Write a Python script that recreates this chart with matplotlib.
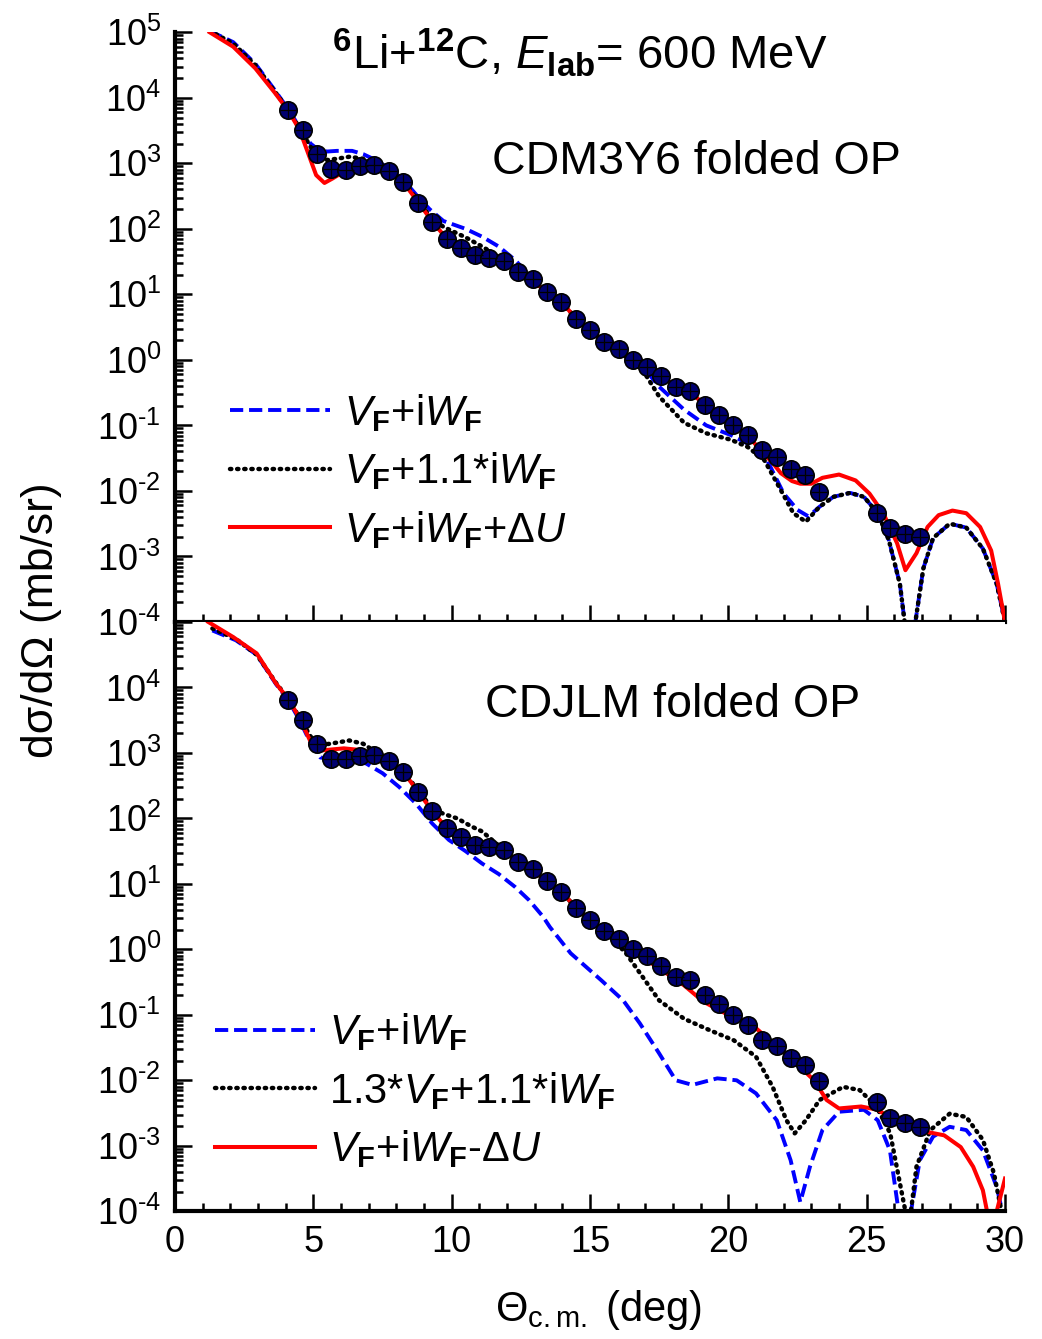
import numpy as np
import matplotlib
matplotlib.use("Agg")
import matplotlib.pyplot as plt
from matplotlib.ticker import LogLocator, NullFormatter, MultipleLocator

plt.rcParams['font.family'] = ['Liberation Sans', 'DejaVu Sans']
plt.rcParams['mathtext.fontset'] = 'custom'
plt.rcParams['mathtext.rm'] = 'Liberation Sans'
plt.rcParams['mathtext.it'] = 'Liberation Sans:italic'
plt.rcParams['mathtext.bf'] = 'Liberation Sans:bold'
plt.rcParams['mathtext.sf'] = 'Liberation Sans'

# experimental points (same data in both panels), log10 of dsigma/dOmega in mb/sr
theta_exp = [4.09, 4.61, 5.12, 5.64, 6.17, 6.68, 7.19, 7.73, 8.25, 8.77, 9.30, 9.82,
             10.33, 10.84, 11.36, 11.89, 12.41, 12.93, 13.43, 13.95, 14.48, 15.00,
             15.52, 16.04, 16.54, 17.06, 17.58, 18.10, 18.63, 19.15, 19.66, 20.18,
             20.72, 21.23, 21.75, 22.25, 22.77, 23.28, 25.38, 25.86, 26.39, 26.92]
logxs_exp = [3.81, 3.51, 3.14, 2.91, 2.90, 2.96, 2.97, 2.88, 2.71, 2.40, 2.11, 1.85,
             1.71, 1.60, 1.56, 1.51, 1.34, 1.23, 1.04, 0.88, 0.63, 0.455,
             0.28, 0.16, 0.0, -0.105, -0.25, -0.42, -0.47, -0.69, -0.84, -1.0,
             -1.15, -1.38, -1.48, -1.66, -1.76, -2.01, -2.33, -2.57, -2.65, -2.71]

# CDM3Y6 panel
th_m3y_blue = [1.25, 2.1, 2.9, 3.6, 4.1, 4.5, 4.9, 5.2, 5.5, 5.85, 6.4, 6.8, 7.3, 7.8,
               8.25, 8.8, 9.2, 9.7, 10.5, 11.1, 11.7, 12.3, 12.9, 13.4, 13.95, 14.5,
               15.0, 15.5, 16.0, 16.5, 17.0, 17.5, 18.4, 19.2, 20.1, 20.8, 21.4, 22.0,
               22.5, 22.9, 23.3, 23.8, 24.4, 24.9, 25.4, 25.8, 26.2, 26.55, 26.9, 27.05,
               27.4, 28.0, 28.6, 29.2, 29.7, 30.0]
xs_m3y_blue = [5.02, 4.85, 4.52, 4.12, 3.82, 3.55, 3.3, 3.2, 3.18, 3.19, 3.19, 3.14,
               3.04, 2.9, 2.75, 2.48, 2.3, 2.12, 2.0, 1.88, 1.73, 1.52, 1.25, 1.04,
               0.89, 0.63, 0.45, 0.28, 0.15, 0.0, -0.15, -0.41, -0.76, -1.0, -1.15,
               -1.30, -1.53, -2.04, -2.29, -2.39, -2.24, -2.09, -2.03, -2.09, -2.34,
               -2.75, -3.42, -4.6, -3.6, -3.18, -2.72, -2.50, -2.56, -2.88, -3.42, -4.0]
th_m3y_black = [1.25, 2.1, 2.9, 3.6, 4.1, 4.5, 4.9, 5.2, 5.5, 5.85, 6.3, 6.8, 7.3, 7.8,
                8.25, 8.8, 9.2, 9.7, 10.5, 11.1, 11.6, 12.1, 12.4, 12.9, 13.4, 13.95,
                14.5, 15.0, 15.5, 16.0, 16.5, 17.0, 17.5, 18.4, 19.2, 20.1, 20.7, 21.3,
                21.9, 22.35, 22.8, 23.3, 23.8, 24.4, 24.9, 25.4, 25.8, 26.2, 26.55, 26.9,
                27.05, 27.4, 28.0, 28.6, 29.2, 29.7, 30.0]
xs_m3y_black = [5.02, 4.83, 4.5, 4.1, 3.81, 3.54, 3.25, 3.1, 3.05, 3.07, 3.10, 3.07,
                2.98, 2.88, 2.73, 2.42, 2.2, 2.03, 1.87, 1.73, 1.6, 1.45, 1.34, 1.23,
                1.04, 0.89, 0.63, 0.45, 0.28, 0.15, -0.02, -0.22, -0.56, -0.96, -1.12,
                -1.22, -1.33, -1.53, -1.99, -2.34, -2.47, -2.24, -2.09, -2.03, -2.09,
                -2.34, -2.75, -3.42, -4.6, -3.6, -3.18, -2.72, -2.50, -2.56, -2.88,
                -3.42, -4.0]
th_m3y_red = [1.25, 2.1, 2.9, 3.6, 4.1, 4.5, 4.9, 5.1, 5.4, 5.7, 6.2, 6.7, 7.2, 7.7,
              8.25, 8.8, 9.3, 9.8, 10.3, 10.8, 11.4, 11.9, 12.4, 12.9, 13.4, 13.95,
              14.5, 15.0, 15.5, 16.0, 16.5, 17.1, 17.6, 18.1, 18.6, 19.15, 19.7, 20.2,
              20.7, 21.2, 21.6, 21.9, 22.3, 22.6, 23.0, 23.4, 24.0, 24.6, 25.1, 25.6,
              26.1, 26.4, 26.8, 27.2, 27.6, 28.1, 28.6, 29.1, 29.5, 29.75, 30.0]
xs_m3y_red = [5.0, 4.78, 4.45, 4.08, 3.80, 3.51, 3.05, 2.82, 2.70, 2.77, 2.90, 2.96,
              2.97, 2.88, 2.71, 2.40, 2.11, 1.86, 1.72, 1.61, 1.56, 1.50, 1.34, 1.23,
              1.04, 0.89, 0.63, 0.45, 0.28, 0.16, 0.0, -0.11, -0.25, -0.41, -0.48,
              -0.69, -0.84, -1.0, -1.15, -1.40, -1.57, -1.73, -1.85, -1.89, -1.89,
              -1.80, -1.75, -1.84, -2.04, -2.34, -2.80, -3.21, -2.95, -2.55, -2.37,
              -2.30, -2.34, -2.55, -2.91, -3.42, -4.0]

# CDJLM panel
th_jlm_blue = [1.35, 2.2, 2.95, 3.65, 4.1, 4.5, 4.9, 5.25, 5.8, 6.3, 6.9, 7.5, 8.1, 8.7,
               9.3, 9.9, 10.5, 11.1, 11.7, 12.3, 12.8, 13.3, 13.55, 14.3, 15.4, 16.2,
               16.8, 17.5, 18.1, 18.7, 19.6, 20.3, 21.0, 21.75, 22.25, 22.6, 22.95,
               23.4, 24.0, 24.9, 25.4, 25.84, 26.13, 26.35, 26.6, 26.92, 27.4, 28.0,
               28.6, 29.2, 29.7, 29.9]
xs_jlm_blue = [4.87, 4.72, 4.5, 4.05, 3.8, 3.5, 3.15, 2.93, 2.90, 2.89, 2.84, 2.69,
               2.48, 2.23, 1.92, 1.67, 1.5, 1.31, 1.15, 0.95, 0.75, 0.5, 0.34, -0.06,
               -0.47, -0.78, -1.13, -1.59, -2.0, -2.07, -1.97, -2.0, -2.2, -2.61, -3.22,
               -3.86, -3.32, -2.76, -2.48, -2.45, -2.61, -3.07, -3.93, -4.6, -4.0,
               -3.22, -2.86, -2.71, -2.76, -3.07, -3.63, -4.0]
th_jlm_black = [1.35, 2.2, 2.95, 3.65, 4.1, 4.5, 4.9, 5.2, 5.6, 6.3, 6.8, 7.3, 7.8,
                8.25, 8.8, 9.3, 9.7, 10.2, 10.7, 11.1, 11.6, 12.0, 12.4, 12.9, 13.4,
                13.95, 14.5, 15.0, 15.5, 15.9, 16.3, 16.9, 17.5, 18.4, 19.3, 20.2, 21.0,
                21.6, 22.1, 22.4, 22.8, 23.3, 24.15, 24.75, 25.35, 25.85, 26.2, 26.4,
                26.5, 26.6, 26.8, 27.3, 28.0, 28.6, 29.2, 29.6, 29.85, 30.0]
xs_jlm_black = [4.9, 4.74, 4.5, 4.07, 3.82, 3.54, 3.25, 3.12, 3.14, 3.19, 3.14, 3.0,
                2.88, 2.72, 2.42, 2.15, 2.07, 2.0, 1.88, 1.80, 1.62, 1.48, 1.34, 1.23,
                1.04, 0.89, 0.63, 0.45, 0.28, 0.12, -0.06, -0.42, -0.78, -1.06, -1.23,
                -1.39, -1.64, -2.10, -2.61, -2.81, -2.61, -2.30, -2.10, -2.15, -2.40,
                -2.81, -3.57, -4.0, -4.6, -4.0, -3.32, -2.76, -2.51, -2.56, -2.91,
                -3.42, -3.95, -4.3]
th_jlm_red = [1.2, 2.1, 2.95, 3.65, 4.1, 4.5, 4.9, 5.35, 6.1, 6.8, 7.2, 7.7, 8.25, 8.8,
              9.3, 9.8, 10.3, 10.8, 11.4, 11.9, 12.4, 12.9, 13.4, 13.95, 14.5, 15.0,
              15.5, 16.0, 16.5, 17.0, 17.6, 18.4, 19.1, 19.9, 20.8, 21.5, 22.2, 23.1,
              23.55, 24.0, 24.8, 25.4, 25.8, 26.6, 27.2, 27.8, 28.4, 28.85, 29.2,
              29.35, 29.5, 29.7, 30.0]
xs_jlm_red = [5.0, 4.77, 4.52, 4.06, 3.82, 3.53, 3.17, 3.04, 3.07, 3.04, 2.97, 2.88,
              2.71, 2.40, 2.11, 1.86, 1.72, 1.61, 1.56, 1.50, 1.34, 1.23, 1.04, 0.89,
              0.63, 0.45, 0.28, 0.16, 0.0, -0.15, -0.32, -0.55, -0.80, -0.98, -1.13,
              -1.39, -1.64, -2.0, -2.30, -2.43, -2.40, -2.45, -2.56, -2.71, -2.79,
              -2.84, -3.02, -3.32, -3.68, -4.0, -4.6, -4.0, -3.5]

ytick_exps = [-4, -3, -2, -1, 0, 1, 2, 3, 4, 5]
xtick_vals = [0, 5, 10, 15, 20, 25, 30]

lab_m3y = [r'$V_{\mathbf{F}}$+i$W_{\mathbf{F}}$',
           r'$V_{\mathbf{F}}$+1.1*i$W_{\mathbf{F}}$',
           r'$V_{\mathbf{F}}$+i$W_{\mathbf{F}}$+$\Delta U$']
lab_jlm = [r'$V_{\mathbf{F}}$+i$W_{\mathbf{F}}$',
           r'1.3*$V_{\mathbf{F}}$+1.1*i$W_{\mathbf{F}}$',
           r'$V_{\mathbf{F}}$+i$W_{\mathbf{F}}$-$\Delta U$']


def ytick_label(e):
    return r'$10^{%s}$' % str(e).replace('-', '\u2010')


def style_axis(ax, show_top_label):
    ax.set_yscale('log')
    ax.set_xlim(0, 30)
    ax.set_ylim(1e-4, 1e5)
    for s in ['top', 'right']:
        ax.spines[s].set_visible(False)
    for s in ['left', 'bottom']:
        ax.spines[s].set_linewidth(3)
    ticks = [10.0 ** e for e in ytick_exps]
    labels = [ytick_label(e) for e in ytick_exps]
    if not show_top_label:
        labels[-1] = ''
    ax.set_yticks(ticks, labels)
    ax.yaxis.set_minor_locator(LogLocator(base=10, subs=np.arange(2, 10), numticks=20))
    ax.yaxis.set_minor_formatter(NullFormatter())
    ax.set_xticks(xtick_vals)
    ax.xaxis.set_minor_locator(MultipleLocator(1))
    ax.tick_params(which='both', direction='in', width=1.8, labelsize=26)
    ax.tick_params(which='major', length=12, pad=10)
    ax.tick_params(which='minor', length=6)


def draw_panel(ax, curves, labels):
    handles = []
    styles = [dict(color='#0000ff', lw=2.8, ls=(0, (3.4, 1.5))),
              dict(color='black', lw=3.2, ls=(0, (0.3, 1.3)),
                   dash_capstyle='round'),
              dict(color='#ff0000', lw=2.9, ls='-')]
    for (th, lg), st, lab in zip(curves, styles, labels):
        h, = ax.plot(th, 10.0 ** np.array(lg), label=lab, **st)
        handles.append(h)
    xs = 10.0 ** np.array(logxs_exp)
    ax.plot(theta_exp, xs, 'o', ms=12.5, mfc='#000070', mec='black', mew=1.2,
            zorder=5, clip_on=False)
    ax.plot(theta_exp, xs, '+', ms=11, mec='black', mew=0.9, zorder=6)
    return handles


fig = plt.figure(figsize=(10.42, 13.39), dpi=100)
ax1 = fig.add_axes([0.168, 0.5355, 0.7965, 0.4404])
ax2 = fig.add_axes([0.168, 0.0954, 0.7965, 0.4401])

h1 = draw_panel(ax1, [(th_m3y_blue, xs_m3y_blue), (th_m3y_black, xs_m3y_black),
                      (th_m3y_red, xs_m3y_red)], lab_m3y)
h2 = draw_panel(ax2, [(th_jlm_blue, xs_jlm_blue), (th_jlm_black, xs_jlm_black),
                      (th_jlm_red, xs_jlm_red)], lab_jlm)

style_axis(ax1, True)
style_axis(ax2, False)
ax1.tick_params(axis='x', labelbottom=False)

leg_kw = dict(frameon=False, fontsize=30, handlelength=2.4, handletextpad=0.35,
              labelspacing=0.4, borderaxespad=0, borderpad=0, loc='upper left')
ax1.legend(handles=h1, bbox_to_anchor=(0.066, 0.39), **leg_kw)
ax2.legend(handles=h2, bbox_to_anchor=(0.048, 0.339), **leg_kw)

ax1.text(0.488, 0.965, r'$^{\mathbf{6}}$Li+$^{\mathbf{12}}$C, $E_{\mathbf{lab}}$= 600 MeV',
         transform=ax1.transAxes, ha='center', va='center', fontsize=34)
ax1.text(0.628, 0.78, 'CDM3Y6 folded OP', transform=ax1.transAxes,
         ha='center', va='center', fontsize=33.5)
ax2.text(0.60, 0.859, 'CDJLM folded OP', transform=ax2.transAxes,
         ha='center', va='center', fontsize=33.5)

fig.text(0.04, 0.537, 'dσ/dΩ (mb/sr)', rotation=90, ha='center', va='center',
         fontsize=32)
fig.text(0.574, 0.022, r'Θ$_{\mathrm{c.m.}}$ (deg)', ha='center', va='center',
         fontsize=30)

fig.savefig('out.png', dpi=100)
